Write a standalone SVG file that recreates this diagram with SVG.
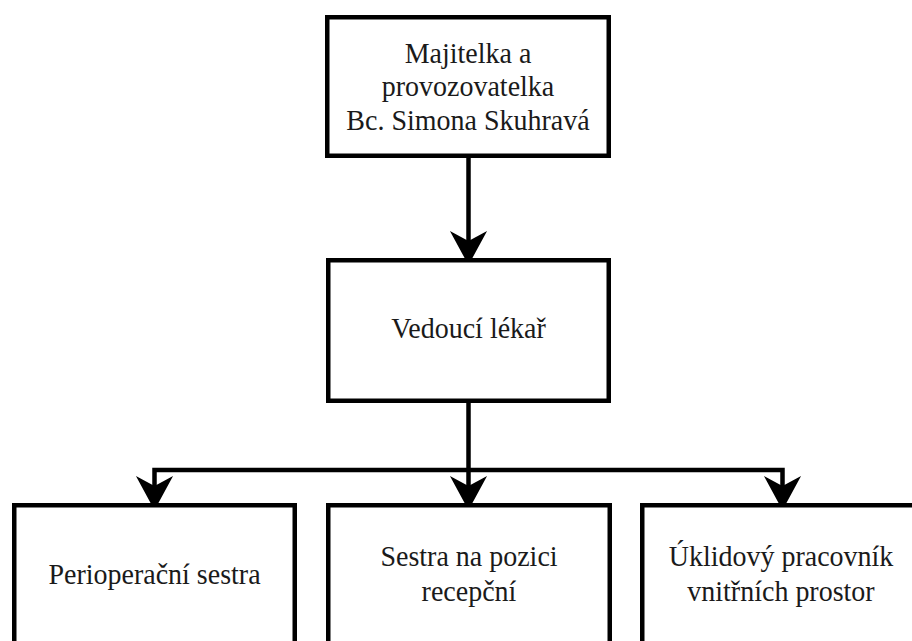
<svg xmlns="http://www.w3.org/2000/svg" width="912" height="641" viewBox="0 0 912 641">
  <style>
    .box { fill: #ffffff; stroke: #000000; stroke-width: 4.5; }
    .lbl { font-family: "Liberation Serif", "Times New Roman", serif; font-size: 28px; fill: #1a1a1a; text-anchor: middle; }
    .conn { fill: none; stroke: #000000; stroke-width: 4.5; stroke-linejoin: miter; }
  </style>
  <defs>
    <marker id="arrow" markerUnits="userSpaceOnUse" markerWidth="40" markerHeight="40" viewBox="-2 -16 30 32" refX="7" refY="0" orient="auto">
      <path d="M0,-13 L24,0 L0,13 L7,0 Z" fill="#000000" stroke="#000000" stroke-width="1.5" stroke-linejoin="miter"/>
    </marker>
  </defs>
  <rect width="912" height="641" fill="#ffffff"/>

  <g id="connectors">
    <path class="conn" d="M468.5,158 L468.5,242" marker-end="url(#arrow)"/>
    <path class="conn" d="M468.5,403 L468.5,487" marker-end="url(#arrow)"/>
    <path class="conn" d="M468.5,470 L154.5,470 L154.5,487" marker-end="url(#arrow)"/>
    <path class="conn" d="M468.5,470 L782.5,470 L782.5,487" marker-end="url(#arrow)"/>
  </g>

  <g id="node-owner">
    <rect class="box" x="327.25" y="17.25" width="281.5" height="138.5"/>
    <text class="lbl" transform="translate(468,62.5) scale(1,1.07)">Majitelka a</text>
    <text class="lbl" transform="translate(468,96) scale(1,1.07)">provozovatelka</text>
    <text class="lbl" transform="translate(468,129.5) scale(1,1.07)">Bc. Simona Skuhravá</text>
  </g>

  <g id="node-lead-doctor">
    <rect class="box" x="328.25" y="260.25" width="280.5" height="140.5"/>
    <text class="lbl" transform="translate(468.5,338) scale(1,1.07)">Vedoucí lékař</text>
  </g>

  <g id="node-perioperative-nurse">
    <rect class="box" x="14.25" y="505.25" width="280.5" height="140"/>
    <text class="lbl" transform="translate(154.5,583.5) scale(1,1.07)">Perioperační sestra</text>
  </g>

  <g id="node-reception-nurse">
    <rect class="box" x="328.25" y="505.25" width="281.5" height="140"/>
    <text class="lbl" transform="translate(469,566) scale(1,1.07)">Sestra na pozici</text>
    <text class="lbl" transform="translate(469,601) scale(1,1.07)">recepční</text>
  </g>

  <g id="node-cleaner">
    <rect class="box" x="642.25" y="505.25" width="280.5" height="140"/>
    <text class="lbl" transform="translate(781,566) scale(1,1.07)">Úklidový pracovník</text>
    <text class="lbl" transform="translate(781,601) scale(1,1.07)">vnitřních prostor</text>
  </g>
</svg>
